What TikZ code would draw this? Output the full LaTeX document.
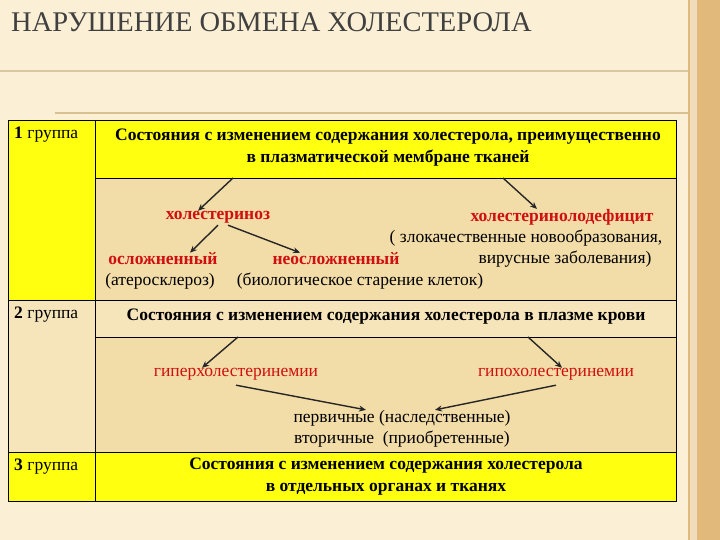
\documentclass[tikz,border=0pt]{standalone}
\usepackage{fontspec}
\setmainfont{Liberation Serif}
\usetikzlibrary{arrows.meta}
\definecolor{bg}{HTML}{FBF0D6}
\definecolor{beige}{HTML}{F2DCA8}
\definecolor{yel}{HTML}{FFFF10}
\definecolor{gold}{HTML}{D9A85A}
\definecolor{redt}{HTML}{D01010}
\definecolor{rule}{HTML}{D8C8A0}
\begin{document}
\begin{tikzpicture}[x=1pt,y=-1pt,
  txt/.style={inner sep=0pt,font=\fontsize{17.5}{22}\selectfont\bfseries,align=center},
  plain/.style={inner sep=0pt,font=\fontsize{17.5}{22}\selectfont},
  red/.style={txt,text=redt},
  arr/.style={-{Stealth[length=7pt,width=6pt]},line width=1.4pt,draw=black!85},
  grid/.style={draw=black,line width=0.8pt}]
\useasboundingbox (0,0) rectangle (720,540);
\fill[bg] (0,0) rectangle (720,540);
\fill[gold!80] (688,0) rectangle (720,540);
\fill[gold!40] (690,0) rectangle (697,540);
\draw[rule,line width=1.5pt] (0,71) -- (688,71);
\draw[rule!80!gold,line width=1.5pt] (55,113) -- (688,113);
\node[anchor=west,inner sep=0pt,font=\fontsize{28.5}{30}\selectfont,text=black!75] (title) at (11,22) {НАРУШЕНИЕ ОБМЕНА ХОЛЕСТЕРОЛА};
% cells
\fill[yel] (8,120) rectangle (95,300);
\fill[yel] (95,120) rectangle (676,178);
\fill[beige] (95,178) rectangle (676,300);
\fill[beige!60!bg] (8,300) rectangle (676,337);
\fill[beige!60!bg] (8,337) rectangle (95,452);
\fill[beige] (95,337) rectangle (676,452);
\fill[yel] (8,452) rectangle (676,501);
\draw[grid] (8,120) rectangle (676,501);
\draw[grid] (95,120) -- (95,501);
\draw[grid] (95,178) -- (676,178);
\draw[grid] (8,300) -- (676,300);
\draw[grid] (95,337) -- (676,337);
\draw[grid] (8,452) -- (676,452);
% labels
\node[plain,anchor=north west] (g1) at (14,127) {\textbf{1} группа};
\node[plain,anchor=north west] (g2) at (14,307) {\textbf{2} группа};
\node[plain,anchor=north west] (g3) at (14,459) {\textbf{3} группа};
\node[txt] (h1) at (388,148) {Состояния с изменением содержания холестерола, преимущественно\\в плазматической мембране тканей};
\node[txt] (h2) at (386,317) {Состояния с изменением содержания холестерола в плазме крови};
\node[txt] (h3) at (386,477) {Состояния с изменением содержания холестерола\\в отдельных органах и тканях};
\coordinate (h1l) at (233,178); \coordinate (h1r) at (503,178);
\coordinate (h2l) at (238,337); \coordinate (h2r) at (528,337);
\node[red] (chol) at (218,217) {холестериноз};
\node[red] (def) at (562,217) {холестеринолодефицит};
\node[plain] (zl) at (526,238) {( злокачественные новообразования,};
\node[red] (osl) at (163,259) {осложненный};
\node[red] (neo) at (336,259) {неосложненный};
\node[plain] (vir) at (565,259) {вирусные заболевания)};
\node[plain] (ath) at (160,281) {(атеросклероз)};
\node[plain] (bio) at (360,281) {(биологическое старение клеток)};
\node[plain,text=redt] (hyp) at (236,374) {гиперхолестеринемии};
\node[plain,text=redt] (hpo) at (556,374) {гипохолестеринемии};
\node[plain] (perv) at (402,418) {первичные (наследственные)};
\node[plain] (vtor) at (402,439) {вторичные\ \ (приобретенные)};
\draw[arr] (h1l) -- (chol.north -| 198,0);
\draw[arr] (h1r) -- (def.north -| 537,0);
\draw[arr] (chol.south) ++(0,2) -- (osl.north -| 190,0);
\draw[arr] (chol.south) ++(10,2) -- (neo.north -| 300,0);
\draw[arr] (h2l) -- (hyp.north -| 202,0);
\draw[arr] (h2r) -- (hpo.north -| 562,0);
\draw[arr] (hyp.south) ++(0,5) -- (perv.north -| 366,0);
\draw[arr] (hpo.south) ++(0,5) -- (perv.north -| 435,0);
\end{tikzpicture}
\end{document}
